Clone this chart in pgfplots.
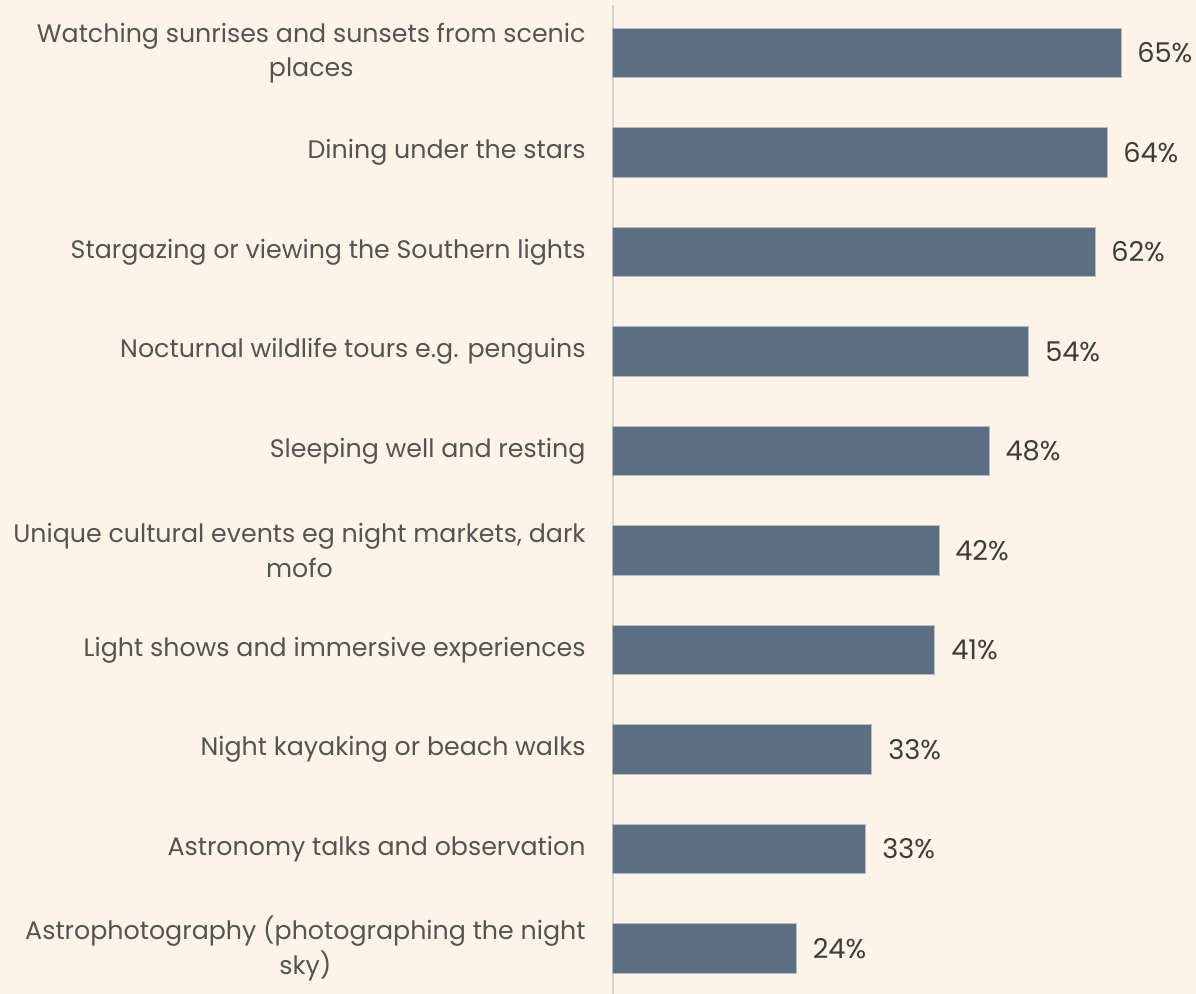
\documentclass[border=0pt]{standalone}
\usepackage{pgfplots}
\pgfplotsset{compat=1.18}
\usepackage{pgfplotstable}
\usepackage{fontspec}
\setmainfont{Poppins}
\definecolor{bg}{RGB}{253,243,230}
\definecolor{barc}{RGB}{91,110,130}
\definecolor{baredge}{RGB}{180,188,196}
\definecolor{axisgray}{RGB}{210,210,210}
\definecolor{lab}{RGB}{84,84,84}
\definecolor{val}{RGB}{60,60,60}
\pgfplotstableread{
y x label
0 65.36 65\%
1 63.56 64\%
2 62.02 62\%
3 53.53 54\%
4 48.42 48\%
5 41.96 42\%
6 41.44 41\%
7 33.34 33\%
8 32.57 33\%
9 23.63 24\%
}\data
\begin{document}
\begin{tikzpicture}
\path[fill=bg, use as bounding box] (-306.35pt,0pt) rectangle (291.65pt,497pt);
\begin{axis}[
  at={(0pt,0pt)}, anchor=south west,
  scale only axis, width=291.65pt, height=494.5pt,
  xbar, bar width=0.5,
  xmin=0, xmax=75, ymin=-0.4824, ymax=9.457, y dir=reverse,
  axis x line=none, axis y line=left,
  y axis line style={-, draw=axisgray, line width=1pt},
  ytick={0,...,9},
  yticklabels={{Watching sunrises and sunsets from scenic\\places},
    {Dining under the stars},
    {Stargazing or viewing the Southern lights},
    {Nocturnal wildlife tours e.g. penguins},
    {Sleeping well and resting},
    {Unique cultural events eg night markets, dark\\mofo},
    {Light shows and immersive experiences},
    {Night kayaking or beach walks},
    {Astronomy talks and observation},
    {Astrophotography (photographing the night\\sky)}},
  ytick style={draw=none},
  yticklabel style={anchor=east, align=center, inner sep=0pt, xshift=-11.25pt,
    font=\fontsize{12.65}{17.3}\selectfont, text=lab},
  nodes near coords, point meta=explicit symbolic,
  nodes near coords style={anchor=west, inner sep=0pt, xshift=7.9pt,
    font=\fontsize{13.6}{17.3}\selectfont, text=val},
]
\addplot[fill=barc, draw=baredge, line width=0.5pt] table[x=x, y=y, meta=label] {\data};
\end{axis}
\end{tikzpicture}
\end{document}
